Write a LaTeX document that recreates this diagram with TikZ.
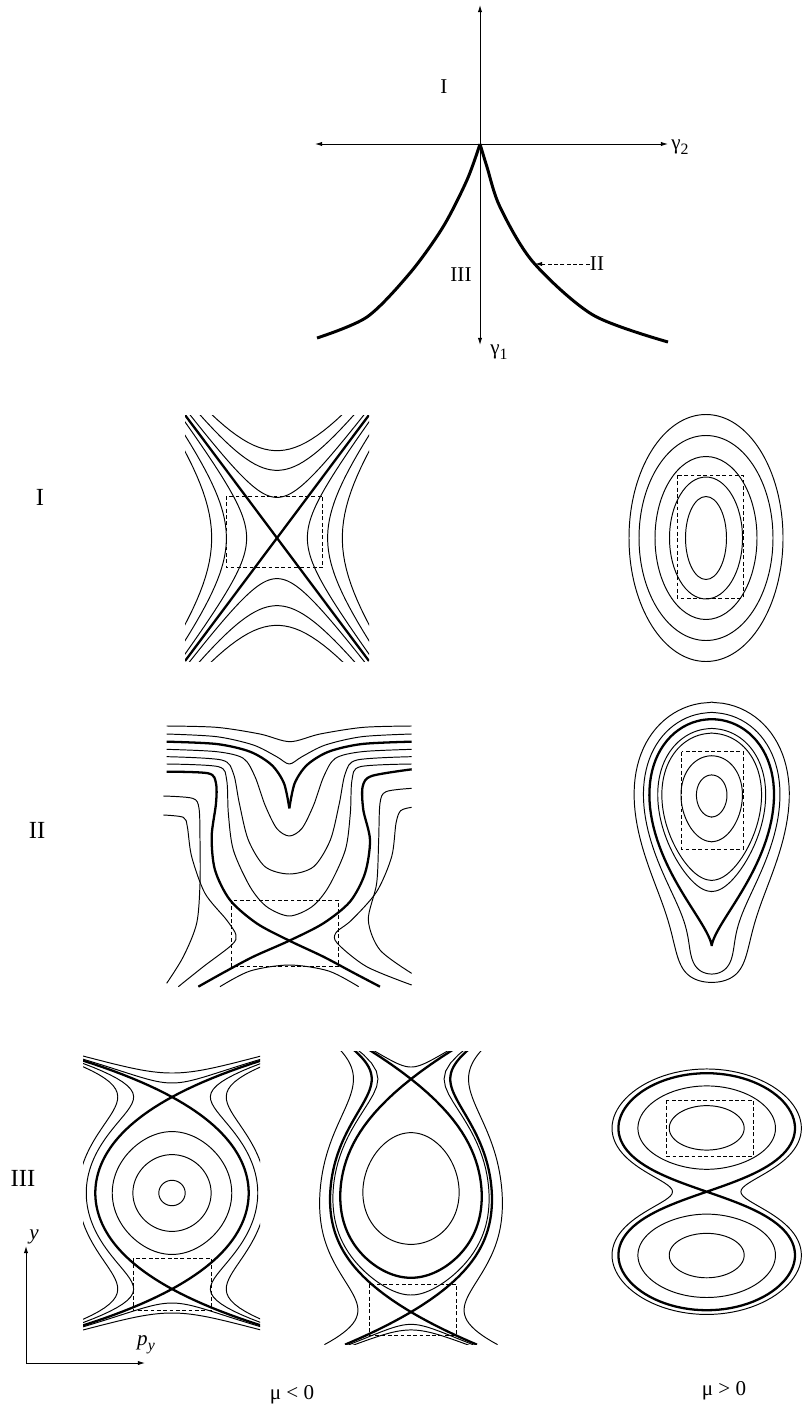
\documentclass[tikz,border=0pt]{standalone}
\usepackage{fontspec}
\setmainfont{Liberation Serif}
\usetikzlibrary{arrows.meta}

\newcommand{\lowsub}[1]{\raisebox{-0.5ex}{\fontsize{9}{10}\selectfont #1}}

\begin{document}
\begin{tikzpicture}[x=0.02cm, y=-0.02cm,
    orbit/.style={line width=0.55pt, line join=round},
    sepline/.style={line width=1.3pt, line join=round},
    cuspline/.style={line width=1.7pt},
    dbox/.style={line width=0.5pt, dash pattern=on 2.2pt off 1.4pt},
    axisline/.style={line width=0.5pt, {Latex[length=4pt,width=2.4pt]}-{Latex[length=4pt,width=2.4pt]}},
    arrow/.style={line width=0.5pt, -{Latex[length=4pt,width=2.4pt]}},
    lab/.style={font=\fontsize{12}{14}\selectfont, inner sep=0pt},
    rowlab/.style={font=\fontsize{14}{16}\selectfont, inner sep=0pt},
    declare function={
        sg(\s)=\s/(abs(\s)+0.0001);
        Fs(\s)=(1-\s*\s)*(1+0.15*\s*\s);
        Yh(\s,\v)=sqrt((-0.85+sqrt(0.7225+0.6*(1+sqrt(\s*\s+Fs(\v)*Fs(\v)))))/0.3);
        Vm(\s)=-(\s*\s*\s*\s/4-0.05*\s*\s*\s/3-\s*\s/2+0.05*\s);
        Wm(\s)=152-20*\s+40*\s*\s/(1+\s*\s);
        Ym(\s)=1195.5-116.5*\s;
        Vc(\s)=3*\s*\s*\s*\s-4*\s*\s*\s;
        Wc(\s)=62.5-25/(1+exp(5*\s));
        Yc(\s)=946-93.2*(\s+0.619*max(\s,0)*max(\s,0)+0.35*min(\s,0)*min(\s,0));
        Vd(\s)=\s*\s*\s*\s-2*\s*\s;
        Yd(\s)=1191.7-43.2*\s-20.3*\s*\s*\s;
    }
]
\useasboundingbox (0,0) rectangle (803,1416);

\coordinate (vTop) at (480,5);
\coordinate (vBot) at (480,345);
\coordinate (hLeft) at (315,144);
\coordinate (hRight) at (668,144);
\coordinate (onCurve) at (535,264);
\draw[axisline] (vBot) -- (vTop);
\draw[axisline] (hLeft) -- (hRight);
\draw[cuspline] plot[smooth] coordinates {(317,338) (367,317) (410,273) (443,227) (467,180) (480,144)};
\draw[cuspline] plot[smooth] coordinates {(480,144) (487,167) (500,207) (533,262) (593,315) (668,342)};
\node[lab] (regI) at (444,87) {I};
\node[lab] (regIII) at (461,275) {III};
\node[lab] (regII) at (597,264) {II};
\node[lab, anchor=west] (gTwo) at (671,147) {γ\lowsub{2}};
\node[lab, anchor=west] (gOne) at (490,352) {γ\lowsub{1}};
\draw[arrow, dash pattern=on 2.2pt off 1.4pt] (regII.west) -- (onCurve);

\node[rowlab] (rowI) at (40,497) {I};
\node[rowlab] (rowII) at (37,830) {II};
\node[rowlab] (rowIII) at (23,1178) {III};

\begin{scope}
\clip (185,415) rectangle (369,661);
\foreach \a in {0.33,0.55,0.71} {
    \draw[orbit] plot[domain=-2.3:2.3, samples=60, variable=\t] ({277+92*\a*sinh(\t)},{538-123*\a*cosh(\t)});
    \draw[orbit] plot[domain=-2.3:2.3, samples=60, variable=\t] ({277+92*\a*sinh(\t)},{538+123*\a*cosh(\t)});
    \draw[orbit] plot[domain=-2.3:2.3, samples=60, variable=\t] ({277-92*\a*cosh(\t)},{538+123*\a*sinh(\t)});
    \draw[orbit] plot[domain=-2.3:2.3, samples=60, variable=\t] ({277+92*\a*cosh(\t)},{538+123*\a*sinh(\t)});
}
\draw[sepline] (185,415) -- (369,661);
\draw[sepline] (369,415) -- (185,661);
\end{scope}
\draw[dbox] (226,496) rectangle (322.7,567.3);

\foreach \rx/\ry in {20.5/41.5, 36.5/61, 51/81.5, 67/102.5, 77/123.5}
    \draw[orbit] (706,538) ellipse [x radius=\rx, y radius=\ry];
\draw[dbox] (677,475) rectangle (743,598);

\begin{scope}[shift={(150,690)}, scale=1/3]
\draw[orbit] plot[smooth] coordinates {(50,108) (200,112) (330,132) (420,155) (510,132) (640,112) (785,108)};
\draw[orbit] plot[smooth] coordinates {(50,132) (200,140) (310,165) (380,200) (418,222) (456,200) (526,165) (636,140) (785,132)};
\draw[sepline] plot[smooth] coordinates {(50,155) (200,162) (300,185) (365,225) (402,280) (418,355)};
\draw[sepline] plot[smooth] coordinates {(418,355) (434,280) (471,225) (536,185) (636,162) (785,155)};
\draw[orbit] plot[smooth] coordinates {(50,178) (200,185) (280,205) (315,260) (345,345) (380,415) (418,438) (456,415) (491,345) (521,260) (556,205) (636,185) (785,178)};
\draw[orbit] plot[smooth] coordinates {(50,200) (215,210) (250,250) (268,340) (295,450) (345,530) (418,552) (491,530) (541,450) (568,340) (586,250) (621,210) (785,200)};
\draw[orbit] plot[smooth] coordinates {(50,222) (205,230) (230,270) (235,370) (250,480) (300,590) (350,650) (418,678) (486,650) (536,590) (586,480) (601,370) (606,270) (631,230) (785,222)};
\draw[sepline] plot[smooth] coordinates {(50,245) (175,250) (198,280) (198,340) (185,440) (195,540) (240,630) (320,700) (418,752) (520,800) (610,848) (690,890)};
\draw[sepline] plot[smooth] coordinates {(785,238) (665,258) (638,290) (640,360) (660,450) (645,550) (600,635) (520,700) (418,752) (310,800) (220,848) (145,890)};
\draw[orbit] plot[smooth] coordinates {(40,318) (128,325) (147,355) (150,450) (150,580) (140,700) (100,800) (50,880)};
\draw[orbit] plot[smooth] coordinates {(40,375) (100,382) (112,410) (125,500) (165,610) (230,690) (258,735) (245,765) (160,830) (85,890)};
\draw[orbit] plot[smooth] coordinates {(785,295) (708,305) (690,340) (686,450) (680,580) (655,690) (690,780) (785,850)};
\draw[orbit] plot[smooth] coordinates {(785,352) (752,362) (738,400) (725,500) (680,605) (605,690) (558,728) (562,760) (650,830) (785,885)};
\draw[orbit] plot[smooth] coordinates {(210,890) (300,843) (418,825) (536,843) (626,890)};
\draw[dbox] (243,630) rectangle (565,830);
\end{scope}

\draw[sepline] plot[domain=0:180, samples=121, variable=\t] ({711.7+Wc(4/3*sin(\t)*sin(\t))*3.0792*sin(\t)*sin(\t)*sin(\t)*cos(\t)},{Yc(4/3*sin(\t)*sin(\t))});
\foreach \h/\ya/\yb in {-0.94/0.890/1.096, -0.757/0.759/1.181, -0.36/0.529/1.277, -0.25/0.454/1.2965, 0.2/-0.343/1.361, 0.55/-0.469/1.402} {
    \pgfmathsetmacro\ym{((\ya)+(\yb))/2}
    \pgfmathsetmacro\yd{((\yb)-(\ya))/2}
    \draw[orbit] plot[domain=0:360, samples=151, variable=\t] ({711.7+Wc(\ym+\yd*sin(\t))*sg(cos(\t))*sqrt(max(0,(\h)-Vc(\ym+\yd*sin(\t))))},{Yc(\ym+\yd*sin(\t))});
}
\draw[dbox] (681.7,751.7) rectangle (743.3,849);

\begin{scope}
\clip (83,1054) rectangle (260,1332);
\draw[sepline] plot[domain=-1.5:1.5, samples=80, variable=\t] ({172+76.7*Fs(\t)},{1193-96*\t});
\draw[sepline] plot[domain=-1.5:1.5, samples=80, variable=\t] ({172-76.7*Fs(\t)},{1193-96*\t});
\foreach \m in {0.132,0.40,0.64}
    \draw[orbit] plot[domain=0:360, samples=121, variable=\t] ({172+76.7*sg(cos(\t))*sqrt(max(0,Fs(\m*sin(\t))*Fs(\m*sin(\t))-Fs(\m)*Fs(\m)))},{1193-96*\m*sin(\t)});
\foreach \v in {1.146,1.25} {
    \draw[orbit] plot[domain=-1.3:1.3, samples=60, variable=\t] ({172+76.7*\t},{1193-96*Yh(\t,\v)});
    \draw[orbit] plot[domain=-1.3:1.3, samples=60, variable=\t] ({172+76.7*\t},{1193+96*Yh(\t,\v)});
}
\foreach \h in {0.25,0.5} {
    \draw[orbit] plot[domain=-1.5:1.5, samples=80, variable=\t] ({172+76.7*sqrt(\h+Fs(\t)*Fs(\t))},{1193-96*\t});
    \draw[orbit] plot[domain=-1.5:1.5, samples=80, variable=\t] ({172-76.7*sqrt(\h+Fs(\t)*Fs(\t))},{1193-96*\t});
}
\end{scope}
\draw[dbox] (133,1258) rectangle (211,1310);

\begin{scope}
\clip (300,1051) rectangle (525,1344);
\draw[sepline] plot[domain=-1.4:1.4, samples=121, variable=\t] ({411+Wm(-0.70632+\t*\t)*0.5*\t*sqrt(\t*\t+0.52068)*(1.70632-\t*\t)},{Ym(-0.70632+\t*\t)});
\draw[sepline] plot[domain=-1.28:1.26, samples=100, variable=\t] ({411+Wm(\t)*(\t+1)*sqrt(0.25*\t*\t-0.516667*\t+0.283333)},{Ym(\t)});
\draw[sepline] plot[domain=-1.28:1.26, samples=100, variable=\t] ({411-Wm(\t)*(\t+1)*sqrt(0.25*\t*\t-0.516667*\t+0.283333)},{Ym(\t)});
\draw[orbit] plot[domain=-0.4:0.4, samples=40, variable=\t] ({411+Wm(1.103+\t*\t)*sg(\t)*sqrt(max(0,Vm(1.103)-Vm(1.103+\t*\t)))},{Ym(1.103+\t*\t)});
\foreach \v in {-1.106,-1.154}
    \draw[orbit] plot[domain=-0.42:0.42, samples=40, variable=\t] ({411+Wm(\v-\t*\t)*sg(\t)*sqrt(max(0,Vm(\v)-Vm(\v-\t*\t)))},{Ym(\v-\t*\t)});
\draw[orbit] plot[domain=-1.46:1.46, samples=120, variable=\t] ({411+Wm(-0.854+\t*\t)*sg(\t)*sqrt(max(0,Vm(-0.854)-Vm(-0.854+\t*\t)))},{Ym(-0.854+\t*\t)});
\draw[orbit] plot[domain=-1.28:1.26, samples=100, variable=\t] ({411+Wm(\t)*sqrt(0.36-Vm(\t))},{Ym(\t)});
\draw[orbit] plot[domain=-1.28:1.26, samples=100, variable=\t] ({411-Wm(\t)*sqrt(0.36-Vm(\t))},{Ym(\t)});
\draw[orbit] plot[domain=0:360, samples=121, variable=\t] ({411+Wm(0.06+0.481*sin(\t))*sg(cos(\t))*sqrt(max(0,0.1-Vm(0.06+0.481*sin(\t))))},{Ym(0.06+0.481*sin(\t))});
\draw[dbox] (369.3,1284) rectangle (456.7,1335);
\end{scope}

\draw[sepline] plot[domain=0:360, samples=181, variable=\t] ({706.7+88.3*sin(2*\t)},{Yd(1.41421*sin(\t))});
\foreach \h in {-0.393,-0.82} {
    \pgfmathsetmacro\ya{sqrt(1-sqrt(1+(\h)))}
    \pgfmathsetmacro\yb{sqrt(1+sqrt(1+(\h)))}
    \pgfmathsetmacro\ym{(\ya+\yb)/2}
    \pgfmathsetmacro\yd{(\yb-\ya)/2}
    \draw[orbit] plot[domain=0:360, samples=121, variable=\t] ({706.7+88.3*sg(cos(\t))*sqrt(max(0,(\h)-Vd(\ym+\yd*sin(\t))))},{Yd(\ym+\yd*sin(\t))});
    \draw[orbit] plot[domain=0:360, samples=121, variable=\t] ({706.7+88.3*sg(cos(\t))*sqrt(max(0,(\h)-Vd(\ym+\yd*sin(\t))))},{Yd(-\ym-\yd*sin(\t))});
}
\draw[orbit] plot[domain=0:360, samples=181, variable=\t] ({706.7+88.3*sg(cos(\t))*sqrt(max(0,0.15-Vd(1.43958*sin(\t))))},{Yd(1.43958*sin(\t))});
\draw[dbox] (666,1100) rectangle (753.3,1156.7);

\coordinate (orig) at (26,1363);
\coordinate (yEnd) at (26,1246);
\coordinate (pEnd) at (145,1363);
\draw[arrow] (orig) -- (yEnd);
\draw[arrow] (orig) -- (pEnd);
\node[lab] (ylab) at (34,1237) {\itshape y};
\node[lab] (pylab) at (146,1345) {{\itshape p}\lowsub{\itshape y}};
\node[lab] (muNeg) at (292,1395) {μ < 0};
\node[lab] (muPos) at (724,1391) {μ > 0};
\end{tikzpicture}
\end{document}
